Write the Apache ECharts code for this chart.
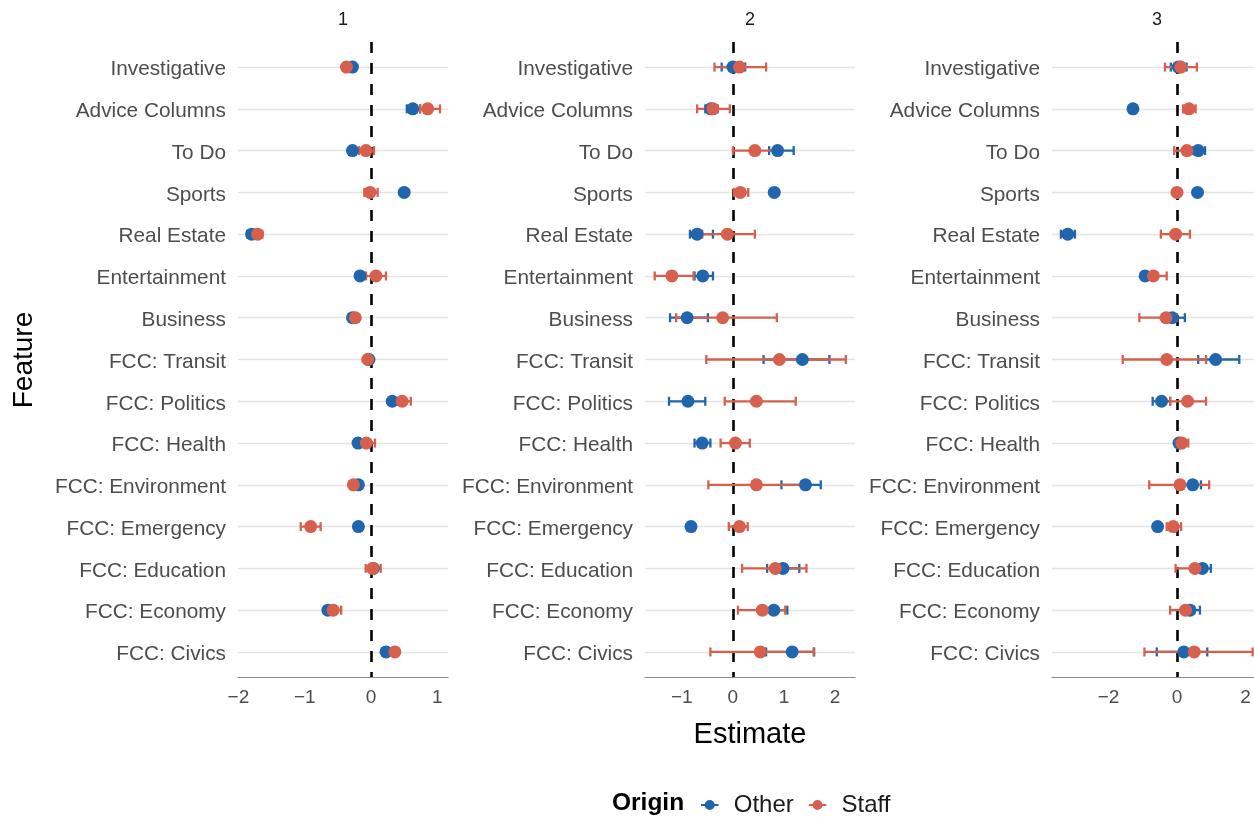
<!DOCTYPE html>
<html>
<head>
<meta charset="utf-8">
<script src="https://cdn.jsdelivr.net/npm/echarts@6/dist/echarts.min.js"></script>
<style>html,body{margin:0;padding:0;background:#fff}#c{width:1254px;height:817px}</style>
</head>
<body>
<div id="c"></div>
<script>
// ---- data ----
const categories = ['Investigative','Advice Columns','To Do','Sports','Real Estate','Entertainment','Business',
  'FCC: Transit','FCC: Politics','FCC: Health','FCC: Environment','FCC: Emergency','FCC: Education','FCC: Economy','FCC: Civics'];
const panelLabels = ['1','2','3'];
const seriesNames = ['Other','Staff'];
// [estimate, lower, upper] per category
const other1 = [[-0.28,-0.31,-0.25],[0.63,0.54,0.74],[-0.28,-0.31,-0.25],[0.50,0.48,0.52],[-1.80,-1.865,-1.75],[-0.166,-0.19,-0.14],[-0.28,-0.31,-0.25],
  [-0.03,-0.05,-0.01],[0.32,0.29,0.35],[-0.196,-0.22,-0.17],[-0.19,-0.22,-0.16],[-0.19,-0.22,-0.16],[0.035,0.0,0.07],[-0.65,-0.68,-0.62],[0.226,0.20,0.25]];
const staff1 = [[-0.37,-0.40,-0.34],[0.855,0.74,1.04],[-0.075,-0.18,0.045],[-0.015,-0.10,0.10],[-1.71,-1.78,-1.64],[0.075,-0.075,0.226],[-0.237,-0.26,-0.21],
  [-0.05,-0.08,-0.02],[0.47,0.39,0.60],[-0.07,-0.165,0.06],[-0.266,-0.30,-0.23],[-0.91,-1.06,-0.76],[0.025,-0.08,0.146],[-0.57,-0.65,-0.45],[0.36,0.33,0.39]];
const other2 = [[0.0,-0.22,0.24],[-0.43,-0.54,-0.30],[0.875,0.71,1.19],[0.81,0.78,0.84],[-0.70,-0.84,-0.39],[-0.59,-0.75,-0.39],[-0.895,-1.23,-0.49],
  [1.36,0.60,1.89],[-0.88,-1.25,-0.54],[-0.60,-0.75,-0.44],[1.42,0.95,1.72],[-0.82,-0.86,-0.78],[0.98,0.67,1.30],[0.80,0.60,1.065],[1.16,0.65,1.59]];
const staff2 = [[0.13,-0.36,0.65],[-0.39,-0.70,-0.06],[0.43,0.0,0.85],[0.146,0.02,0.30],[-0.107,-0.60,0.43],[-1.195,-1.53,-0.77],[-0.20,-1.11,0.86],
  [0.91,-0.52,2.21],[0.46,-0.16,1.23],[0.05,-0.24,0.33],[0.46,-0.48,1.35],[0.13,-0.08,0.29],[0.83,0.18,1.44],[0.576,0.10,1.025],[0.537,-0.44,1.58]];
const other3 = [[0.04,-0.18,0.28],[-1.285,-1.31,-1.26],[0.62,0.46,0.82],[0.60,0.58,0.62],[-3.19,-3.39,-2.98],[-0.93,-0.97,-0.89],[-0.14,-0.40,0.23],
  [1.13,0.62,1.82],[-0.45,-0.71,-0.20],[0.06,0.03,0.09],[0.46,0.20,0.70],[-0.565,-0.60,-0.53],[0.74,0.50,0.99],[0.38,0.20,0.67],[0.20,-0.59,0.885]];
const staff3 = [[0.11,-0.35,0.58],[0.35,0.18,0.545],[0.29,-0.08,0.50],[0.0,-0.06,0.06],[-0.04,-0.47,0.38],[-0.69,-0.93,-0.30],[-0.32,-1.10,0.0],
  [-0.30,-1.585,0.85],[0.31,-0.20,0.85],[0.14,0.0,0.33],[0.09,-0.81,0.94],[-0.11,-0.30,0.12],[0.525,-0.04,0.80],[0.25,-0.20,0.50],[0.505,-0.95,2.21]];
const xTicks = [[-2,-1,0,1],[-1,0,1,2],[-2,0,2]];
const xLimits = [[-2.006,1.161],[-1.72,2.39],[-3.65,2.25]];

// ---- styling ----
const BLUE = '#2166AC', RED = '#D6604D';
const FONT = 'Liberation Sans, Arial, Helvetica, sans-serif';
const panels = [[other1, staff1],[other2, staff2],[other3, staff3]];
const gridLefts = [238, 645, 1052];
const gridWidths = [210, 210, 202];
const titleX = [343, 750, 1157];
const idx = categories.map((_, i) => i);

const grids = [], xAxes = [], yAxes = [], series = [];
panels.forEach((pd, p) => {
  grids.push({left: gridLefts[p], top: 42, width: gridWidths[p], height: 635});
  xAxes.push({
    type: 'value', gridIndex: p, min: xLimits[p][0], max: xLimits[p][1],
    axisLine: {show: true, onZero: false, lineStyle: {color: '#8a8a8a', width: 1.2}},
    axisTick: {show: false, customValues: xTicks[p]},
    splitLine: {show: false},
    axisLabel: {customValues: xTicks[p], color: '#4d4d4d', fontSize: 19, fontFamily: FONT, margin: 11,
      formatter: v => (v < 0 ? '\u2212' + Math.abs(v) : String(v))}
  });
  yAxes.push({
    type: 'value', gridIndex: p, min: -0.6, max: 14.6, inverse: true,
    axisLine: {show: false},
    axisTick: {show: false, customValues: idx},
    splitLine: {show: true, lineStyle: {color: '#e4e4e4', width: 1.3}},
    axisLabel: {customValues: idx, margin: 12,
      formatter: v => '{c|' + categories[Math.round(v)] + '}',
      rich: {c: {color: '#4d4d4d', fontSize: 20.8, fontFamily: FONT, padding: [5, 0, 0, 0]}}}
  });
  // error bars
  pd.forEach((arr, s) => {
    const col = s === 0 ? BLUE : RED;
    series.push({
      type: 'custom', name: seriesNames[s], xAxisIndex: p, yAxisIndex: p, z: 3,
      itemStyle: {color: col},
      encode: {x: [1, 2], y: 0},
      data: arr.map((d, i) => [i, d[1], d[2]]),
      renderItem: function (params, api) {
        const y = api.value(0);
        const a = api.coord([api.value(1), y]);
        const b = api.coord([api.value(2), y]);
        const h = 4.5;
        const st = {stroke: col, lineWidth: 2.3};
        return {type: 'group', children: [
          {type: 'line', shape: {x1: a[0], y1: a[1], x2: b[0], y2: b[1]}, style: st},
          {type: 'line', shape: {x1: a[0], y1: a[1] - h, x2: a[0], y2: a[1] + h}, style: st},
          {type: 'line', shape: {x1: b[0], y1: b[1] - h, x2: b[0], y2: b[1] + h}, style: st}
        ]};
      }
    });
  });
  pd.forEach((arr, s) => {
    const col = s === 0 ? BLUE : RED;
    const ser = {
      type: 'scatter', name: seriesNames[s], xAxisIndex: p, yAxisIndex: p, z: 4 + s,
      symbol: 'circle', symbolSize: 13, itemStyle: {color: col, opacity: 1},
      emphasis: {disabled: true},
      data: arr.map((d, i) => [d[0], i])
    };
    if (s === 0) {
      ser.markLine = {
        silent: true, symbol: 'none', z: 1, animation: false,
        label: {show: false},
        lineStyle: {color: '#000', width: 2.6, type: [11, 10]},
        data: [{xAxis: 0}]
      };
    }
    series.push(ser);
  });
});

const legendIcon = 'path://M3,4.2H17V5.8H3Z M10,1A4,4,0,1,1,10,9A4,4,0,1,1,10,1Z';

const graphics = panelLabels.map((t, p) => ({
  type: 'text', x: titleX[p], y: 20,
  style: {text: t, fontSize: 18, fill: '#1a1a1a', fontFamily: FONT, align: 'center', verticalAlign: 'middle'}
}));
graphics.push(
  {type: 'text', x: 750, y: 735, style: {text: 'Estimate', fontSize: 29, fill: '#000', fontFamily: FONT, align: 'center', verticalAlign: 'middle'}},
  {type: 'text', x: 24, y: 360, rotation: Math.PI / 2, style: {text: 'Feature', fontSize: 28, fill: '#000', fontFamily: FONT, align: 'center', verticalAlign: 'middle'}},
  {type: 'text', x: 612, y: 803, style: {text: 'Origin', fontSize: 24.5, fontWeight: 'bold', fill: '#000', fontFamily: FONT, align: 'left', verticalAlign: 'middle'}}
);

const option = {
  animation: false,
  backgroundColor: '#fff',
  grid: grids, xAxis: xAxes, yAxis: yAxes, series: series,
  legend: {
    left: 696, top: 788, orient: 'horizontal', itemWidth: 18, itemHeight: 10, itemGap: 15,
    data: [{name: 'Other', icon: legendIcon}, {name: 'Staff', icon: legendIcon}],
    textStyle: {fontSize: 24, color: '#1a1a1a', fontFamily: FONT, padding: [0, 0, 0, 10]},
    selectedMode: false
  },
  graphic: graphics
};

const chart = echarts.init(document.getElementById('c'), null, {renderer: 'canvas'});
chart.setOption(option);
</script>
</body>
</html>
